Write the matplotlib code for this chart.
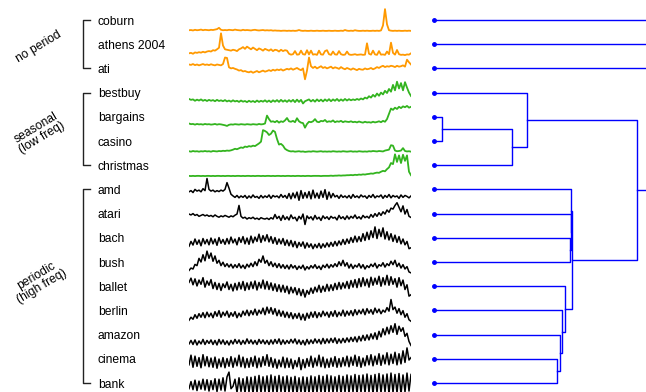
import numpy as np
import matplotlib
matplotlib.use("Agg")
import matplotlib.pyplot as plt

plt.rcParams["font.family"] = ["Liberation Sans", "DejaVu Sans"]

# query names, top to bottom
names = ["coburn", "athens 2004", "ati", "bestbuy", "bargains", "casino",
         "christmas", "amd", "atari", "bach", "bush", "ballet", "berlin",
         "amazon", "cinema", "bank"]

# group label, first row, last row, colour of its series
groups = [("no period", 0, 2, "#ff9900"),
          ("seasonal\n(low freq)", 3, 6, "#33b41f"),
          ("periodic\n(high freq)", 7, 15, "black")]

# weekly query volume, relative units (rescaled per row when drawn)
coburn = [3, 4, 2, 5, 3, 4, 6, 3, 5, 4, 3, 5, 4, 6, 8, 14, 5, 3, 4, 3,
          5, 4, 3, 6, 4, 3, 2, 5, 3, 4, 3, 2, 4, 5, 3, 2, 3, 4, 2, 3,
          2, 3, 1, 2, 1, 1, 0, 1, 1, 0, 1, 0, 1, 0, 1, 4, 1, 0, 1, 0,
          0, 1, 0, 0, 1, 0, 0, 1, 0, 0, 1, 0, 0, 1, 0, 0, 1, 0, 4, 1,
          0, 1, 0, 3, 1, 0, 0, 1, 0, 1, 0, 0, 1, 0, 1, 0, 2, 25, 100, 30,
          3, 1, 0, 1, 0, 1, 0, 0, 1, 0, 1, 0]
athens = [10, 12, 8, 14, 12, 15, 13, 17, 14, 18, 20, 18, 24, 22, 28, 35, 100, 45, 28, 26,
          24, 22, 26, 24, 20, 28, 32, 38, 30, 40, 34, 28, 36, 30, 24, 32, 28, 22, 30, 26,
          22, 28, 20, 26, 24, 18, 26, 20, 24, 22, 8, 4, 6, 20, 4, 5, 22, 6, 4, 24,
          5, 22, 4, 6, 3, 22, 5, 4, 20, 24, 6, 3, 18, 5, 4, 20, 6, 3, 4, 18,
          5, 3, 4, 6, 3, 4, 5, 3, 4, 55, 8, 4, 22, 5, 3, 20, 4, 5, 3, 18,
          6, 58, 12, 4, 25, 6, 3, 4, 2, 5, 4, 10]
ati = [68, 66, 70, 65, 68, 64, 67, 70, 66, 68, 65, 69, 66, 64, 68, 66, 64, 70, 100, 98,
       55, 50, 52, 48, 45, 40, 42, 36, 38, 34, 32, 36, 30, 34, 38, 32, 36, 40, 35, 38,
       42, 38, 44, 40, 45, 42, 46, 40, 44, 48, 45, 50, 44, 48, 52, 46, 42, 50, 0, 40,
       100, 60, 52, 58, 50, 55, 60, 52, 56, 50, 54, 58, 50, 55, 52, 48, 56, 50, 46, 52,
       48, 44, 50, 46, 42, 48, 45, 44, 50, 46, 48, 52, 46, 50, 56, 52, 58, 62, 56, 60,
       58, 62, 60, 56, 62, 58, 60, 64, 58, 90, 78, 68]
bestbuy = [22, 18, 20, 14, 19, 15, 20, 14, 18, 13, 18, 14, 17, 12, 18, 13, 16, 12, 17, 11,
           15, 10, 16, 11, 14, 9, 15, 10, 13, 8, 14, 9, 13, 8, 15, 9, 14, 10, 16, 9,
           15, 8, 16, 10, 17, 9, 18, 10, 16, 9, 17, 10, 18, 8, 19, 9, 18, 2, 12, 16,
           20, 11, 18, 10, 20, 12, 19, 11, 20, 13, 21, 12, 20, 14, 22, 13, 20, 14, 22, 15,
           21, 16, 20, 17, 22, 18, 24, 20, 28, 24, 34, 28, 40, 32, 46, 36, 50, 42, 58, 48,
           66, 54, 84, 60, 98, 68, 92, 60, 96, 72, 50, 35]
bargains = [20, 17, 18, 15, 18, 16, 17, 15, 18, 16, 17, 15, 16, 18, 15, 17, 16, 14, 12, 9,
            14, 16, 15, 17, 16, 15, 17, 16, 15, 17, 16, 15, 17, 16, 15, 18, 16, 17, 20, 56,
            40, 28, 30, 26, 32, 24, 30, 27, 34, 45, 30, 28, 32, 26, 44, 30, 24, 22, 1, 18,
            28, 26, 30, 40, 28, 26, 32, 30, 36, 27, 30, 28, 34, 26, 30, 28, 32, 26, 30, 28,
            27, 30, 26, 28, 25, 29, 26, 24, 28, 25, 26, 24, 28, 25, 27, 30, 26, 32, 28, 40,
            64, 88, 82, 92, 86, 96, 90, 98, 94, 100, 92, 96]
casino = [5, 3, 6, 4, 5, 3, 5, 4, 6, 4, 5, 3, 6, 5, 4, 6, 5, 7, 6, 8,
          7, 9, 12, 16, 14, 18, 22, 20, 26, 24, 28, 26, 30, 28, 34, 40, 48, 100, 96, 90,
          78, 84, 98, 92, 60, 35, 38, 30, 16, 10, 6, 4, 5, 3, 4, 5, 3, 4, 2, 3,
          4, 3, 5, 4, 3, 4, 5, 3, 4, 3, 4, 3, 5, 4, 3, 4, 3, 5, 4, 3,
          4, 5, 3, 4, 3, 5, 4, 3, 4, 3, 5, 4, 6, 5, 4, 6, 5, 4, 8, 10,
          12, 32, 30, 8, 5, 6, 8, 19, 6, 4, 5, 3]
christmas = [1, 0, 1, 0, 1, 1, 0, 1, 0, 1, 1, 0, 1, 0, 1, 1, 0, 1, 0, 1,
             1, 0, 1, 0, 1, 1, 0, 1, 0, 1, 1, 0, 1, 0, 1, 1, 0, 1, 0, 1,
             1, 0, 1, 0, 1, 1, 0, 1, 0, 1, 1, 0, 1, 0, 1, 1, 0, 1, 0, 1,
             1, 0, 1, 1, 1, 1, 0, 1, 1, 1, 1, 2, 1, 2, 2, 3, 2, 3, 3, 4,
             4, 5, 4, 6, 5, 7, 6, 8, 7, 9, 10, 12, 11, 14, 16, 15, 20, 24, 22, 32,
             40, 60, 55, 100, 65, 95, 60, 98, 70, 95, 20, 4]
amd = [45, 50, 42, 55, 48, 52, 45, 58, 50, 100, 55, 48, 52, 45, 50, 46, 52, 48, 55, 83,
       60, 35, 28, 22, 30, 20, 28, 22, 30, 18, 28, 20, 32, 22, 26, 18, 30, 20, 28, 22,
       32, 18, 30, 24, 28, 20, 34, 22, 30, 18, 38, 16, 40, 20, 44, 10, 50, 18, 42, 20,
       46, 16, 52, 20, 40, 18, 48, 22, 54, 14, 44, 20, 38, 24, 30, 18, 32, 22, 28, 20,
       30, 18, 34, 22, 28, 20, 32, 24, 28, 18, 30, 22, 34, 20, 28, 24, 32, 18, 30, 22,
       34, 20, 30, 24, 28, 18, 32, 22, 30, 26, 20, 28]
atari = [50, 46, 52, 44, 48, 40, 44, 48, 42, 46, 40, 44, 38, 46, 40, 36, 42, 38, 44, 40,
         36, 42, 38, 45, 50, 88, 40, 32, 36, 28, 34, 30, 36, 28, 32, 26, 34, 30, 28, 32,
         26, 34, 28, 48, 30, 40, 22, 44, 26, 38, 24, 46, 30, 36, 20, 40, 28, 50, 4, 42,
         30, 38, 24, 44, 28, 36, 22, 42, 30, 38, 26, 40, 32, 36, 24, 44, 30, 38, 26, 42,
         28, 40, 32, 46, 30, 38, 28, 44, 34, 40, 32, 48, 36, 52, 40, 56, 44, 60, 50, 68,
         58, 76, 72, 88, 100, 80, 60, 86, 50, 70, 40, 35]
bach = [20, 40, 25, 50, 28, 46, 22, 52, 30, 48, 26, 54, 30, 50, 24, 56, 32, 48, 28, 52,
        30, 58, 34, 50, 26, 56, 36, 60, 30, 54, 28, 62, 34, 58, 40, 70, 36, 64, 42, 68,
        38, 60, 32, 56, 28, 50, 30, 52, 24, 46, 22, 44, 18, 40, 14, 36, 20, 38, 12, 34,
        16, 30, 10, 28, 14, 32, 12, 30, 16, 34, 18, 36, 20, 40, 22, 42, 26, 48, 28, 50,
        32, 56, 36, 62, 38, 60, 40, 72, 44, 78, 48, 84, 56, 100, 52, 90, 60, 96, 50, 80,
        46, 72, 40, 66, 36, 60, 30, 50, 26, 40, 10, 14]
bush = [20, 30, 26, 45, 40, 70, 55, 85, 60, 100, 70, 92, 58, 80, 50, 62, 40, 54, 36, 48,
        34, 46, 30, 44, 32, 48, 30, 42, 28, 46, 34, 50, 36, 56, 40, 66, 54, 80, 50, 62,
        40, 56, 36, 50, 32, 48, 30, 44, 28, 42, 26, 44, 30, 40, 24, 38, 28, 42, 22, 36,
        26, 40, 30, 44, 28, 38, 24, 42, 32, 46, 30, 44, 34, 48, 36, 56, 40, 62, 38, 52,
        30, 46, 28, 42, 34, 48, 30, 44, 26, 40, 32, 46, 36, 50, 30, 44, 38, 52, 34, 48,
        40, 58, 44, 62, 36, 50, 30, 44, 26, 36, 14, 10]
ballet = [70, 88, 60, 85, 55, 80, 62, 90, 50, 76, 58, 82, 44, 70, 40, 66, 36, 64, 48, 72,
          40, 62, 34, 66, 38, 70, 42, 74, 36, 68, 40, 72, 44, 76, 38, 70, 46, 80, 42, 74,
          40, 68, 36, 64, 32, 60, 30, 58, 28, 54, 22, 50, 26, 48, 18, 44, 14, 40, 8, 36,
          20, 46, 24, 50, 30, 58, 28, 54, 32, 62, 34, 60, 36, 66, 40, 70, 42, 68, 46, 74,
          44, 78, 50, 82, 48, 86, 52, 90, 56, 84, 50, 92, 58, 88, 62, 96, 54, 90, 60, 100,
          58, 94, 62, 86, 50, 90, 56, 80, 40, 60, 12, 18]
berlin = [18, 30, 22, 40, 26, 44, 30, 48, 28, 50, 32, 46, 28, 52, 34, 56, 30, 50, 36, 54,
          30, 48, 34, 52, 28, 46, 32, 54, 38, 58, 36, 56, 40, 62, 38, 58, 44, 66, 40, 70,
          46, 68, 42, 64, 36, 58, 34, 54, 30, 50, 28, 48, 24, 44, 26, 46, 20, 42, 18, 46,
          26, 50, 30, 52, 28, 48, 32, 54, 36, 50, 30, 52, 34, 56, 32, 50, 36, 58, 34, 54,
          38, 56, 36, 60, 40, 58, 44, 62, 40, 64, 46, 60, 42, 66, 48, 62, 44, 58, 50, 68,
          54, 100, 60, 70, 46, 64, 40, 56, 30, 44, 20, 14]
amazon = [20, 34, 18, 36, 16, 32, 20, 38, 18, 34, 22, 36, 18, 34, 16, 38, 20, 36, 18, 32,
          16, 34, 20, 38, 22, 36, 18, 34, 20, 40, 22, 36, 20, 34, 18, 38, 22, 36, 20, 34,
          18, 36, 20, 38, 22, 40, 18, 36, 20, 34, 22, 38, 24, 40, 20, 36, 18, 34, 16, 38,
          20, 36, 22, 40, 24, 38, 20, 42, 22, 40, 24, 42, 26, 44, 22, 40, 24, 42, 26, 44,
          28, 46, 30, 48, 28, 50, 32, 54, 34, 56, 36, 60, 40, 64, 38, 70, 48, 80, 56, 86,
          60, 92, 66, 100, 58, 90, 70, 84, 50, 62, 30, 14]
cinema = [30, 70, 20, 66, 24, 60, 18, 72, 26, 64, 22, 58, 20, 62, 16, 54, 22, 60, 18, 56,
          24, 64, 20, 58, 26, 70, 22, 62, 18, 56, 20, 60, 24, 66, 18, 58, 22, 64, 28, 72,
          24, 60, 20, 54, 16, 50, 22, 62, 18, 58, 20, 54, 14, 48, 22, 60, 10, 52, 18, 56,
          24, 66, 20, 58, 26, 70, 22, 62, 18, 54, 20, 58, 24, 64, 20, 56, 22, 60, 26, 66,
          22, 62, 28, 70, 24, 64, 20, 58, 26, 68, 30, 72, 26, 66, 32, 76, 28, 70, 34, 80,
          30, 74, 36, 82, 30, 76, 34, 88, 40, 100, 50, 60]
bank = [30, 60, 26, 66, 22, 62, 28, 70, 24, 68, 20, 64, 26, 72, 18, 70, 24, 76, 20, 80,
        100, 30, 40, 70, 14, 76, 18, 72, 12, 80, 16, 78, 10, 82, 14, 86, 12, 80, 16, 84,
        10, 88, 14, 82, 12, 86, 16, 80, 10, 84, 14, 78, 12, 82, 10, 76, 14, 80, 8, 78,
        12, 84, 10, 80, 14, 86, 12, 82, 10, 88, 14, 84, 12, 80, 16, 86, 10, 82, 14, 88,
        12, 84, 16, 90, 10, 86, 14, 88, 12, 92, 16, 86, 10, 90, 14, 94, 12, 88, 16, 92,
        10, 96, 14, 90, 12, 94, 8, 88, 16, 96, 20, 90]

series = [coburn, athens, ati, bestbuy, bargains, casino, christmas, amd,
          atari, bach, bush, ballet, berlin, amazon, cinema, bank]

# hierarchical clustering: (child a, child b, distance); children are row
# numbers or "m<k>" for the k-th merge
merges = [(4, 5, 0.040), ("m0", 6, 0.370), (3, "m1", 0.440),
          (9, 10, 0.643), (8, "m3", 0.645), (7, "m4", 0.647),
          (14, 15, 0.583), (13, "m6", 0.597), (12, "m7", 0.607),
          (11, "m8", 0.619), ("m5", "m9", 0.650), ("m2", "m10", 0.958),
          (2, "m11", 1.2), (1, "m12", 1.3), (0, "m13", 1.4)]

W, H = 646, 392
fig = plt.figure(figsize=(W / 100, H / 100), dpi=100)

row_px = 24.2
top_px = 20
ylim = ((H - top_px) / row_px, -top_px / row_px)
band = 0.9


def px_axes(x0, x1):
    ax = fig.add_axes([x0 / W, 0, (x1 - x0) / W, 1])
    ax.set_ylim(*ylim)
    ax.axis("off")
    return ax


# labels and group brackets
ax_lab = px_axes(0, 189)
ax_lab.set_xlim(0, 189)
for i, name in enumerate(names):
    ax_lab.text(98, i + 0.07, name, fontsize=8.7, va="center", ha="left")
group_dy = [0.12, 0.17, -0.21]
for (label, r0, r1, _), dy in zip(groups, group_dy):
    ax_lab.plot([90, 83, 83, 90], [r0, r0, r1, r1], color="#222222", lw=1.0)
    ax_lab.text(39, (r0 + r1) / 2 + dy, label, fontsize=8.7, rotation=31,
                ha="center", va="center", multialignment="center",
                linespacing=1.0)

# time series, each rescaled into its own row band
ax_ts = px_axes(189, 411)
n = len(coburn)
t = np.arange(n)
ax_ts.set_xlim(0, n - 1)
row_color = {}
for _, r0, r1, c in groups:
    for r in range(r0, r1 + 1):
        row_color[r] = c
for i, s in enumerate(series):
    v = np.asarray(s, dtype=float)
    v = (v - v.min()) / (v.max() - v.min())
    lw = 1.3 if i < 7 else 1.1
    ax_ts.plot(t, i + band / 2 - v * band, color=row_color[i], lw=lw)

# dendrogram, leaves on the left, distance growing to the right
ax_den = px_axes(420, 646)
ax_den.set_xlim(-13.5 / 212.5, 1.0)
pos = {i: (float(i), 0.0) for i in range(len(names))}
for k, (a, b, d) in enumerate(merges):
    ya, xa = pos[a]
    yb, xb = pos[b]
    ax_den.plot([xa, d, d, xb], [ya, ya, yb, yb], color="#0000ff", lw=1.0)
    pos["m%d" % k] = ((ya + yb) / 2, d)
ax_den.plot(np.zeros(len(names)), np.arange(len(names)), "o",
            color="#0000ff", ms=2.5)

fig.savefig("out.png", dpi=100)
